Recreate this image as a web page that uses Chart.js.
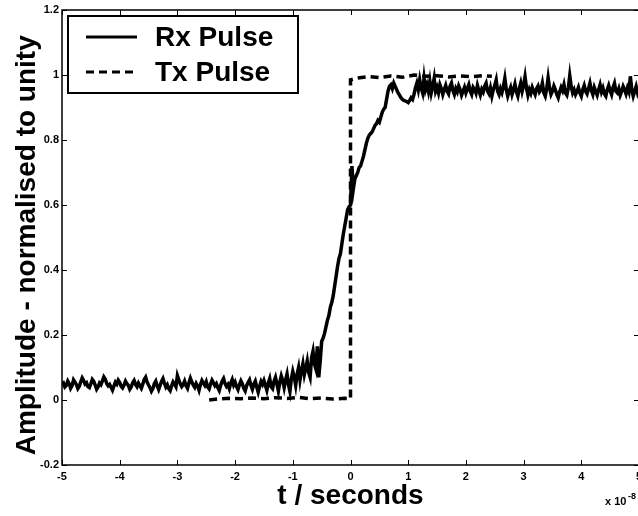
<!DOCTYPE html>
<html>
<head>
<meta charset="utf-8">
<script src="https://cdn.jsdelivr.net/npm/chart.js@4/dist/chart.umd.min.js"></script>
<style>
  html, body { margin: 0; padding: 0; overflow: hidden; background: #fff; }
  #wrap { width: 645px; height: 516px; }
</style>
</head>
<body>
<div id="wrap"><canvas id="pulseChart" width="645" height="516"></canvas></div>
<script>
// Rx pulse sampled every 0.025 (x 1e-8 s) from -5 to 5
const rxStart = -5;
const rxStep = 0.025;
const rxValues = [
  .048,.052,.040,.045,.058,.050,.036,.044,.062,.055,.047,.035,.042,.056,.068,.060,.049,.053,.041,.038,
  .050,.063,.057,.046,.033,.040,.052,.047,.059,.071,.064,.051,.044,.048,.039,.030,.043,.055,.049,.061,
  .054,.042,.037,.046,.058,.050,.045,.033,.040,.053,.060,.048,.041,.052,.044,.036,.049,.063,.070,.055,
  .046,.038,.027,.035,.050,.058,.043,.032,.045,.057,.066,.052,.040,.047,.035,.029,.044,.056,.049,.041,
  .075,.062,.050,.041,.047,.058,.044,.036,.053,.067,.055,.046,.039,.051,.043,.030,.048,.060,.052,.045,
  .056,.040,.034,.049,.061,.053,.044,.050,.038,.029,.045,.058,.066,.051,.042,.048,.035,.052,.063,.046,
  .055,.041,.032,.047,.059,.050,.036,.028,.044,.054,.062,.045,.033,.049,.058,.040,.024,.042,.057,.048,
  .060,.045,.030,.052,.066,.041,.035,.058,.070,.049,.028,.055,.074,.060,.038,.062,.080,.047,.026,.065,
  .088,.070,.045,.080,.100,.062,.090,.112,.078,.098,.120,.085,.070,.130,.150,.110,.095,.165,.070,.120,
  .180,.190,.205,.225,.245,.260,.285,.300,.320,.350,.380,.410,.435,.450,.480,.510,.535,.560,.585,.595,
  .600,.720,.650,.680,.690,.700,.715,.720,.735,.750,.770,.790,.805,.815,.820,.825,.835,.845,.850,.860,
  .855,.870,.885,.895,.900,.925,.950,.965,.970,.958,.975,.965,.955,.945,.938,.930,.925,.922,.920,.918,
  .915,.922,.930,.925,.940,.960,.975,.955,.985,.960,.945,.990,.955,.970,.950,.980,.945,.965,.990,.950,
  .962,.945,.970,.958,.940,.955,.968,.950,.942,.965,.975,.952,.940,.958,.948,.966,.955,.938,.950,.962,
  .945,.958,.970,.950,.940,.962,.955,.944,.968,.952,.938,.956,.948,.966,.975,.950,.942,.960,.935,.955,
  .968,.985,.950,.940,.958,.946,.965,.990,.955,.935,.950,.962,.940,.955,.972,.948,.935,.958,.975,.950,
  .968,.995,.960,.938,.955,.944,.962,.950,.940,.958,.966,.948,.955,.975,.945,.935,.958,.992,.960,.940,
  .950,.966,.955,.940,.930,.948,.962,.952,.970,.945,.938,.960,.998,.965,.945,.955,.940,.950,.962,.945,
  .935,.955,.968,.950,.942,.958,.975,.952,.940,.962,.950,.938,.955,.970,.948,.960,.942,.935,.955,.968,
  .952,.940,.962,.975,.950,.945,.958,.938,.950,.965,.955,.942,.960,.948,.996,.955,.935,.950,.965,.945,
  .958
];

// Tx pulse (ideal step)
const txTimes = [-2.45,-2.3,-2.1,-1.9,-1.7,-1.5,-1.3,-1.1,-0.9,-0.7,-0.5,-0.3,-0.1,0,0,0.1,0.3,0.5,0.7,0.9,1.1,1.3,1.5,1.7,1.9,2.1,2.3,2.45];
const txValues = [0.000,0.003,0.005,0.004,0.006,0.004,0.007,0.005,0.008,0.004,0.006,0.003,0.005,0.004,0.985,0.990,0.995,0.992,0.997,0.993,1.000,0.996,0.998,0.994,0.997,0.995,0.998,0.996];

const seriesNames = ['Rx Pulse', 'Tx Pulse'];
const xTickMin = -5, xTickMax = 5, xTickStep = 1;
const yTickMin = -0.2, yTickMax = 1.2, yTickStep = 0.2;

const rxPoints = rxValues.map((v, i) => ({ x: +(rxStart + i * rxStep).toFixed(3), y: v }));
const txPoints = txTimes.map((t, i) => ({ x: t, y: txValues[i] }));

const tickFont = { family: 'Liberation Sans, Arial, sans-serif', size: 11, weight: 'bold' };
const titleFont = { family: 'Liberation Sans, Arial, sans-serif', size: 28, weight: 'bold', lineHeight: 1 };

// box with inward ticks, legend box and exponent label
const matlabFrame = {
  id: 'matlabFrame',
  afterDatasetsDraw(chart) {
    const ctx = chart.ctx;
    const a = chart.chartArea;
    const xs = chart.scales.x, ys = chart.scales.y;
    ctx.save();
    ctx.strokeStyle = '#000';
    ctx.lineWidth = 1.5;
    ctx.strokeRect(a.left, a.top, a.right - a.left, a.bottom - a.top);
    ctx.lineWidth = 1;
    ctx.beginPath();
    xs.ticks.forEach(t => {
      const px = Math.round(xs.getPixelForValue(t.value)) + 0.5;
      ctx.moveTo(px, a.bottom); ctx.lineTo(px, a.bottom - 5);
      ctx.moveTo(px, a.top); ctx.lineTo(px, a.top + 5);
    });
    ys.ticks.forEach(t => {
      const py = Math.round(ys.getPixelForValue(t.value)) + 0.5;
      ctx.moveTo(a.left, py); ctx.lineTo(a.left + 5, py);
      ctx.moveTo(a.right, py); ctx.lineTo(a.right - 5, py);
    });
    ctx.stroke();

    // legend
    const lx = 68, ly = 16, lw = 230, lh = 77;
    ctx.fillStyle = '#fff';
    ctx.fillRect(lx, ly, lw, lh);
    ctx.lineWidth = 2;
    ctx.strokeRect(lx, ly, lw, lh);
    ctx.font = 'bold 28px "Liberation Sans", Arial, sans-serif';
    ctx.textBaseline = 'middle';
    ctx.fillStyle = '#000';
    const rows = [37, 72];
    chart.data.datasets.forEach((ds, i) => {
      ctx.beginPath();
      ctx.lineWidth = 3;
      ctx.setLineDash(ds.borderDash || []);
      ctx.moveTo(86, rows[i]);
      ctx.lineTo(137, rows[i]);
      ctx.stroke();
      ctx.setLineDash([]);
      ctx.fillText(ds.label, 155, rows[i] + 1);
    });

    // exponent
    ctx.textBaseline = 'alphabetic';
    ctx.font = 'bold 11px "Liberation Sans", Arial, sans-serif';
    ctx.fillText('x 10', 605, 505);
    ctx.font = 'bold 9px "Liberation Sans", Arial, sans-serif';
    ctx.fillText('-8', 628, 499);
    ctx.restore();
  }
};

new Chart(document.getElementById('pulseChart'), {
  type: 'scatter',
  data: {
    datasets: [
      { label: seriesNames[0], data: rxPoints, showLine: true, borderColor: '#000', borderWidth: 3.5, pointRadius: 0, tension: 0 },
      { label: seriesNames[1], data: txPoints, showLine: true, borderColor: '#000', borderWidth: 3.5, borderDash: [8, 5], pointRadius: 0, tension: 0 }
    ]
  },
  options: {
    responsive: false,
    animation: false,
    layout: { padding: { top: 10, right: 6, left: 0, bottom: 0 } },
    plugins: { legend: { display: false }, tooltip: { enabled: false } },
    scales: {
      x: {
        type: 'linear', min: xTickMin, max: xTickMax,
        grid: { display: false, drawTicks: false },
        border: { display: false },
        ticks: { stepSize: xTickStep, font: tickFont, color: '#000', padding: 5, maxRotation: 0 },
        title: { display: true, text: 't / seconds', font: titleFont, color: '#000', padding: { top: 0, bottom: 6 } },
        afterFit(s) { s.height = 51; s.paddingLeft = 0; s.paddingRight = 0; }
      },
      y: {
        type: 'linear', min: yTickMin, max: yTickMax,
        grid: { display: false, drawTicks: false },
        border: { display: false },
        ticks: { stepSize: yTickStep, font: tickFont, color: '#000', padding: 3, callback: v => String(+v.toFixed(1)) },
        title: { display: true, text: 'Amplitude - normalised to unity  ', font: titleFont, color: '#000', padding: { top: 13, bottom: 0 } },
        afterFit(s) { s.width = 62; s.paddingTop = 0; s.paddingBottom = 0; }
      }
    }
  },
  plugins: [matlabFrame]
});
</script>
</body>
</html>
